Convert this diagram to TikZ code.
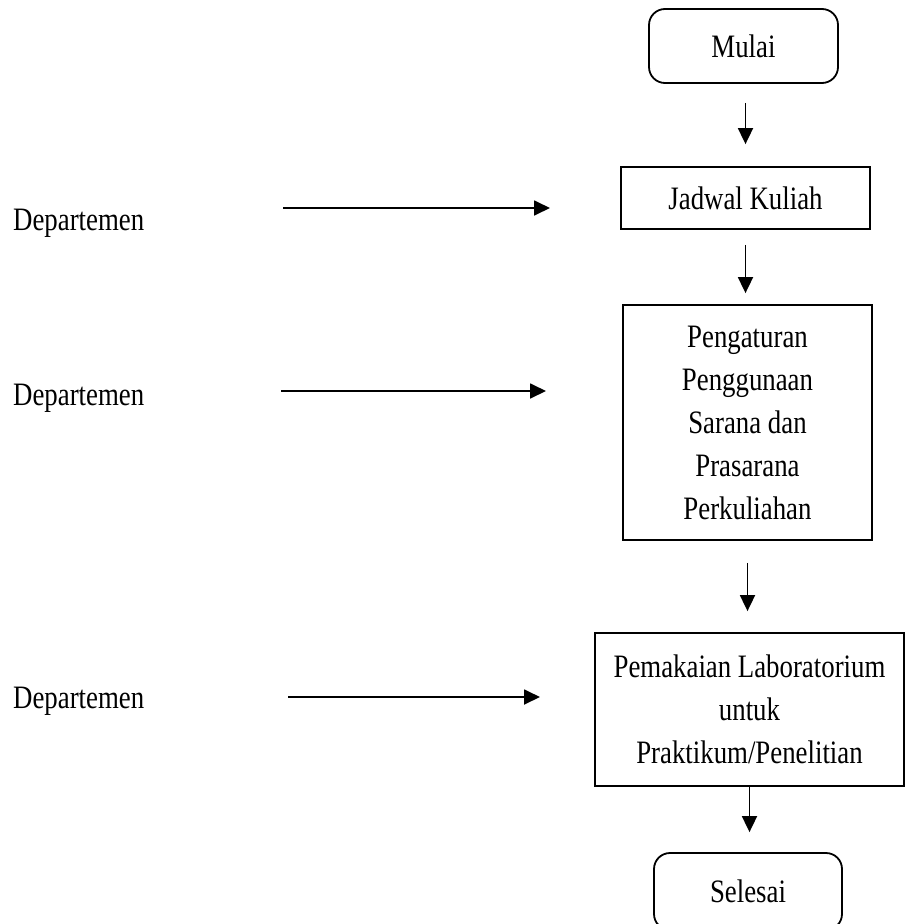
\documentclass[tikz,border=0pt]{standalone}
\usepackage{fontspec}
\setmainfont[FakeStretch=0.82]{Liberation Serif}
\usetikzlibrary{arrows.meta,calc}
\begin{document}
\begin{tikzpicture}[x=1pt,y=-1pt,
  every node/.style={font=\fontsize{32.7}{43}\selectfont, inner sep=0pt},
  boxstyle/.style={draw, line width=1.8pt, align=center},
  roundbox/.style={boxstyle, rounded corners=16pt},
  arr/.style={line width=1.8pt, -{Triangle[width=15pt,length=16pt]}},
  deptlabel/.style={anchor=base west}]
\useasboundingbox (0,0) rectangle (905,924);
\begin{scope}
\clip (0,0) rectangle (905,924);
% flow boxes
\node[roundbox, minimum width=189pt, minimum height=74pt] (mulai) at (743.5,46) {Mulai};
\node[boxstyle, minimum width=249pt, minimum height=62pt] (jadwal) at (745.5,198) {Jadwal Kuliah};
\node[boxstyle, minimum width=249pt, minimum height=235pt] (atur) at (747.5,422.5)
  {Pengaturan\\Penggunaan\\Sarana dan\\Prasarana\\Perkuliahan};
\node[boxstyle, minimum width=309pt, minimum height=153pt] (pakai) at (749.5,709.5)
  {Pemakaian Laboratorium\\untuk\\Praktikum/Penelitian};
\node[roundbox, minimum width=188pt, minimum height=77pt] (selesai) at (748,891.5) {Selesai};
\end{scope}
% vertical connectors
\draw[arr, shorten <=19pt, shorten >=22pt] (mulai.south -| jadwal.north) -- (jadwal.north);
\draw[arr, shorten <=15pt, shorten >=11pt] (jadwal.south) -- (jadwal.south |- atur.north);
\draw[arr, shorten <=22pt, shorten >=21pt] (atur.south) -- (atur.south |- pakai.north);
\draw[arr, shorten >=20pt] (pakai.south) -- (pakai.south |- selesai.north);
% department labels
\node[deptlabel] (d1) at (13,230) {Departemen};
\node[deptlabel] (d2) at (13,405) {Departemen};
\node[deptlabel] (d3) at (13,708) {Departemen};
\coordinate (d1s) at (283,208);
\coordinate (d1e) at (550,208);
\coordinate (d2s) at (281,391);
\coordinate (d2e) at (546,391);
\coordinate (d3s) at (288,697);
\coordinate (d3e) at (540,697);
\draw[arr] (d1s) -- (d1e);
\draw[arr] (d2s) -- (d2e);
\draw[arr] (d3s) -- (d3e);
\end{tikzpicture}
\end{document}
